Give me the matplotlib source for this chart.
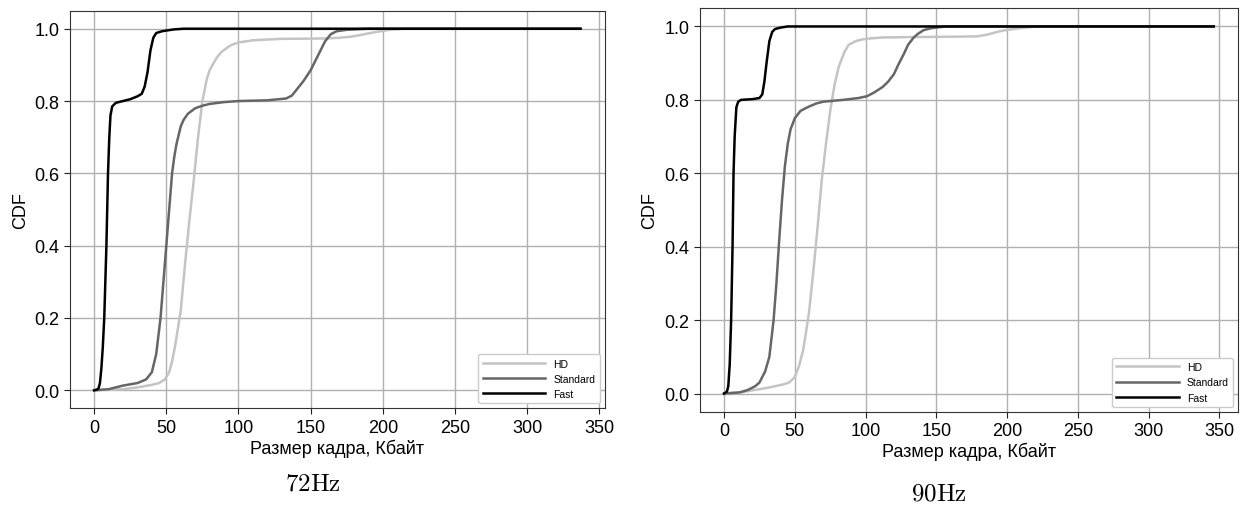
import matplotlib
matplotlib.use("Agg")
import matplotlib.pyplot as plt

## Data ##
# 72 Hz
hd72_x = [0, 20, 30, 40, 45, 49, 52, 54, 56, 58, 60, 63, 66, 69, 72, 75, 78, 80, 82, 85, 88, 92, 95, 100, 110, 130, 160, 170, 178, 185, 190, 197, 205, 215, 337]
hd72_y = [0, 0.003, 0.008, 0.015, 0.02, 0.03, 0.05, 0.08, 0.12, 0.17, 0.22, 0.35, 0.47, 0.58, 0.7, 0.8, 0.86, 0.885, 0.9, 0.92, 0.935, 0.947, 0.955, 0.962, 0.968, 0.972, 0.973, 0.975, 0.978, 0.983, 0.987, 0.992, 0.997, 1.0, 1.0]
std72_x = [0, 10, 20, 30, 36, 40, 43, 46, 48, 50, 52, 54, 55.5, 57, 60, 62, 65, 70, 75, 80, 90, 100, 120, 133, 137, 140, 145, 150, 155, 160, 164, 168, 175, 190, 337]
std72_y = [0, 0.003, 0.013, 0.02, 0.03, 0.05, 0.1, 0.2, 0.3, 0.4, 0.5, 0.6, 0.645, 0.68, 0.73, 0.748, 0.765, 0.78, 0.787, 0.792, 0.797, 0.80, 0.802, 0.807, 0.815, 0.83, 0.855, 0.885, 0.925, 0.965, 0.985, 0.993, 0.997, 1.0, 1.0]
fast72_x = [0, 2, 3, 4, 5, 6, 7, 8.5, 9.6, 10.5, 11.3, 12.5, 15, 20, 25, 30, 33, 35, 37, 39, 41, 43, 47, 55, 62, 337]
fast72_y = [0, 0.002, 0.005, 0.02, 0.06, 0.12, 0.2, 0.4, 0.6, 0.7, 0.76, 0.785, 0.795, 0.80, 0.805, 0.813, 0.82, 0.84, 0.88, 0.94, 0.975, 0.988, 0.993, 0.998, 1.0, 1.0]

# 90 Hz
hd90_x = [0, 13, 22, 30, 36, 42, 46, 50, 53, 56, 58, 60, 63, 66, 69, 72, 75, 78, 81, 85, 88, 93, 98, 105, 112, 130, 160, 179, 186, 190, 195, 199, 210, 221, 346]
hd90_y = [0, 0.004, 0.01, 0.015, 0.02, 0.025, 0.03, 0.045, 0.075, 0.12, 0.17, 0.22, 0.33, 0.45, 0.58, 0.68, 0.77, 0.84, 0.89, 0.93, 0.95, 0.96, 0.965, 0.968, 0.97, 0.971, 0.972, 0.973, 0.978, 0.982, 0.987, 0.99, 0.996, 1.0, 1.0]
std90_x = [0, 11, 17, 22, 25, 29, 32, 35, 37, 39, 41, 43, 45, 47, 50, 54, 59, 65, 70, 84, 95, 101, 106, 112, 116, 120, 123, 127, 130, 134, 137, 141, 146, 152, 157, 346]
std90_y = [0, 0.003, 0.01, 0.02, 0.03, 0.06, 0.1, 0.2, 0.3, 0.42, 0.53, 0.62, 0.68, 0.72, 0.75, 0.77, 0.78, 0.79, 0.795, 0.80, 0.805, 0.81, 0.82, 0.835, 0.85, 0.87, 0.895, 0.925, 0.95, 0.97, 0.98, 0.99, 0.995, 0.998, 1.0, 1.0]
fast90_x = [0, 2, 3, 4, 5, 6, 6.7, 7.5, 8.7, 10, 12, 20, 25, 27, 28.5, 30, 32, 34, 36, 40, 45, 346]
fast90_y = [0, 0.005, 0.02, 0.08, 0.2, 0.4, 0.6, 0.7, 0.78, 0.795, 0.80, 0.802, 0.805, 0.815, 0.85, 0.9, 0.96, 0.985, 0.993, 0.997, 1.0, 1.0]

labels = ["HD", "Standard", "Fast"]
colors = ["#c4c4c4", "#666666", "#000000"]
captions = ["72Hz", "90Hz"]

plt.rcParams["font.family"] = ["Liberation Sans", "DejaVu Sans"]
plt.rcParams["mathtext.fontset"] = "cm"

fig = plt.figure(figsize=(12.47, 5.06), dpi=100)
ax1 = fig.add_axes([0.056, 0.191, 0.429, 0.786])
ax2 = fig.add_axes([0.561, 0.184, 0.432, 0.798])

panels = [
    (ax1, [(hd72_x, hd72_y), (std72_x, std72_y), (fast72_x, fast72_y)]),
    (ax2, [(hd90_x, hd90_y), (std90_x, std90_y), (fast90_x, fast90_y)]),
]

for ax, series in panels:
    for (xs, ys), lab, col in zip(series, labels, colors):
        ax.plot(xs, ys, color=col, lw=1.8, label=lab)
    ax.grid(True, color="#b0b0b0", lw=1.0)
    ax.set_axisbelow(True)
    ax.set_xticks(range(0, 351, 50))
    ax.set_yticks([0.0, 0.2, 0.4, 0.6, 0.8, 1.0])
    ax.tick_params(labelsize=13, length=4, color="#222222")
    for sp in ax.spines.values():
        sp.set_color("#333333")
    ax.set_xlabel("Размер кадра, Кбайт", fontsize=13, labelpad=2)
    ax.set_ylabel("CDF", fontsize=13)
    ax.legend(loc="lower right", fontsize=7.5, handlelength=6, framealpha=1)

fig.text(313 / 1247, 1 - 484 / 506, r"$\mathrm{" + captions[0] + "}$", fontsize=18, ha="center", va="center")
fig.text(939 / 1247, 1 - 494 / 506, r"$\mathrm{" + captions[1] + "}$", fontsize=18, ha="center", va="center")

fig.savefig("out.png", dpi=100)
